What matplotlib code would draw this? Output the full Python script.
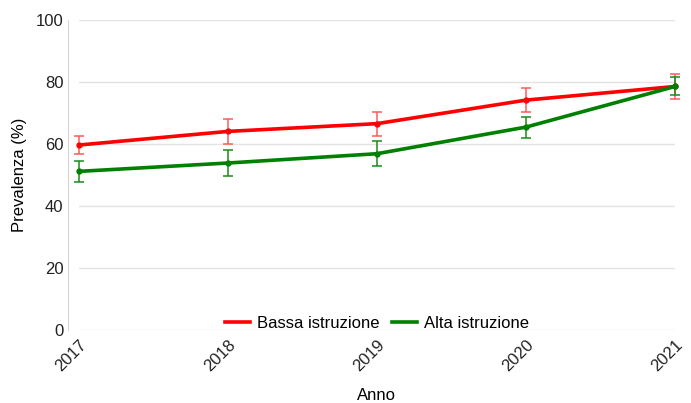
import numpy as np
import matplotlib.pyplot as plt
from matplotlib.lines import Line2D

plt.rcParams['font.family'] = ['Liberation Sans', 'DejaVu Sans']

# Data
anni = [2017, 2018, 2019, 2020, 2021]
bassa = [59.7, 64.1, 66.6, 74.2, 78.6]
bassa_err = [2.9, 4.0, 3.9, 3.8, 3.9]
alta = [51.2, 53.9, 56.9, 65.5, 78.6]
alta_err = [3.3, 4.3, 4.0, 3.4, 2.9]

fig = plt.figure(figsize=(6.91, 4.03), dpi=100)
ax = fig.add_axes([0.114, 0.181, 0.863, 0.769])

for vals, err, col, ecol in [(bassa, bassa_err, '#ff0000', '#ff5a5a'),
                             (alta, alta_err, '#008000', '#1a8c1a')]:
    line, caps, bars = ax.errorbar(anni, vals, yerr=err, color=col, ecolor=ecol,
                                   elinewidth=1.1, capsize=3.5, capthick=1.1,
                                   lw=2.6, marker='o', ms=3.5, zorder=3)
    line.set_clip_on(False)
    for c in caps:
        c.set_clip_on(False)
    for b in bars:
        b.set_clip_on(False)

ax.set_xlim(2017, 2021)
ax.set_ylim(0, 100)
ax.set_xticks(anni)
ax.set_xticklabels([str(a) for a in anni], rotation=45, ha='right',
                   rotation_mode='anchor')
ax.set_yticks([0, 20, 40, 60, 80, 100])

ax.grid(axis='y', color='#e3e3e3', lw=1)
ax.set_axisbelow(True)
for s in ['top', 'right', 'bottom']:
    ax.spines[s].set_visible(False)
ax.spines['left'].set_color('#d6d6d6')
ax.spines['left'].set_position(('outward', 8))
ax.tick_params(axis='y', length=0, labelsize=12, colors='#222222', pad=3)
ax.tick_params(axis='x', length=0, labelsize=12, colors='#222222', pad=5)

ax.set_xlabel('Anno', fontsize=12, labelpad=10)
ax.set_ylabel('Prevalenza (%)', fontsize=12, labelpad=6)

handles = [Line2D([], [], color='#ff0000', lw=2.6),
           Line2D([], [], color='#008000', lw=2.6)]
ax.legend(handles, ['Bassa istruzione', 'Alta istruzione'],
          loc='lower center', bbox_to_anchor=(0.5, -0.05), ncol=2,
          frameon=False, fontsize=12, handlelength=1.5,
          columnspacing=0.8, handletextpad=0.4)

fig.savefig('out.png', dpi=100)
